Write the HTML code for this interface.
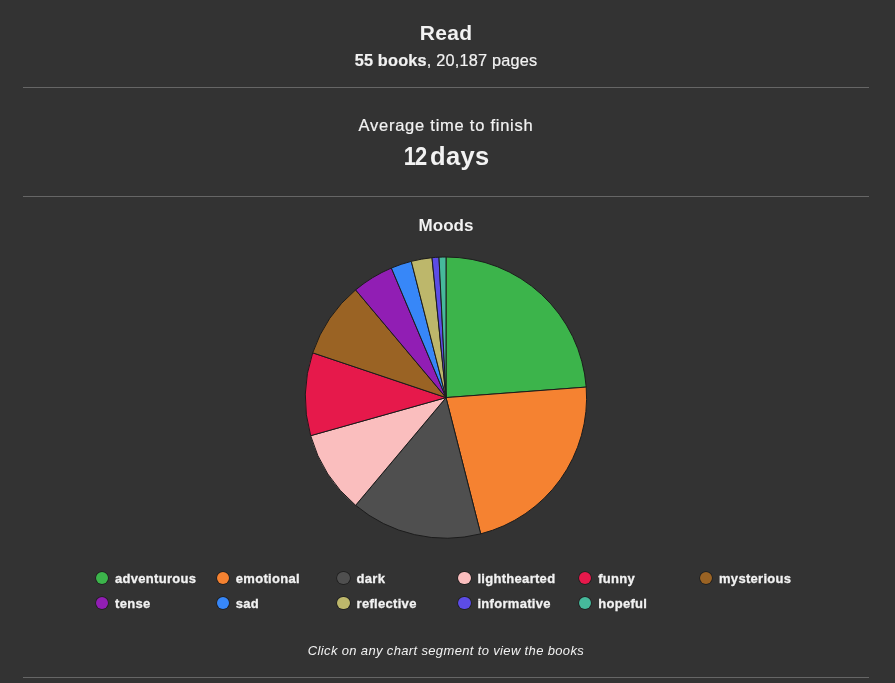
<!DOCTYPE html>
<html><head><meta charset="utf-8">
<style>
html,body{margin:0;padding:0;}
body{width:895px;height:683px;background:#333333;overflow:hidden;position:relative;font-family:"Liberation Sans",Arial,sans-serif;color:#f2f2f2;}
.t{position:absolute;white-space:nowrap;left:0;width:892px;text-align:center;line-height:1;}
.hr{position:absolute;left:23px;width:846px;height:1px;background:#666666;}
#read{top:22.3px;font-size:21px;font-weight:bold;letter-spacing:0.3px;}
#sub{-webkit-text-stroke:0.2px #f2f2f2;top:51.8px;font-size:16.3px;letter-spacing:0.2px;}
#avg{-webkit-text-stroke:0.2px #f2f2f2;top:117.2px;font-size:16.5px;letter-spacing:0.75px;}
#days{left:-1.5px;top:143.5px;font-size:25.5px;font-weight:bold;letter-spacing:0px;}
#moods{top:217.3px;font-size:17px;font-weight:bold;letter-spacing:0px;}
#cap{top:644px;font-size:13px;font-style:italic;letter-spacing:0.35px;}
.lg{position:absolute;-webkit-text-stroke:0.3px #f2f2f2;font-size:13px;font-weight:bold;line-height:1;white-space:nowrap;letter-spacing:0.3px;}
.dot{position:absolute;box-shadow:0 0 0 0.7px #1c1c1c;width:12.5px;height:12.5px;border-radius:50%;}
svg{position:absolute;left:0;top:0;}
</style></head><body>
<div class="t" id="read">Read</div>
<div class="t" id="sub"><b>55 books</b>, 20,187 pages</div>
<div class="hr" style="top:87px"></div>
<div class="t" id="avg">Average time to finish</div>
<div class="t" id="days"><span style="display:inline-block;transform:scaleX(0.86);transform-origin:100% 50%;letter-spacing:-1px">12</span> <span style="margin-left:-3px;letter-spacing:0.3px">days</span></div>
<div class="hr" style="top:196px"></div>
<div class="t" id="moods">Moods</div>
<svg width="895" height="683" viewBox="0 0 895 683"><g stroke="#1c1c1c" stroke-width="1" stroke-linejoin="round">
<path d="M446 397.6L446.00 257.00A140.6 140.6 0 0 1 586.21 387.09Z" fill="#3cb44b"/>
<path d="M446 397.6L586.21 387.09A140.6 140.6 0 0 1 480.69 533.85Z" fill="#f58231"/>
<path d="M446 397.6L480.69 533.85A140.6 140.6 0 0 1 355.62 505.31Z" fill="#4f4f4f"/>
<path d="M446 397.6L355.62 505.31A140.6 140.6 0 0 1 310.66 435.68Z" fill="#fabebe"/>
<path d="M446 397.6L310.66 435.68A140.6 140.6 0 0 1 312.72 352.82Z" fill="#e6194b"/>
<path d="M446 397.6L312.72 352.82A140.6 140.6 0 0 1 355.62 289.89Z" fill="#9a6324"/>
<path d="M446 397.6L355.62 289.89A140.6 140.6 0 0 1 391.39 268.04Z" fill="#911eb4"/>
<path d="M446 397.6L391.39 268.04A140.6 140.6 0 0 1 411.31 261.35Z" fill="#3787f8"/>
<path d="M446 397.6L411.31 261.35A140.6 140.6 0 0 1 432.00 257.70Z" fill="#bdb76b"/>
<path d="M446 397.6L432.00 257.70A140.6 140.6 0 0 1 438.99 257.17Z" fill="#5c4ce6"/>
<path d="M446 397.6L438.99 257.17A140.6 140.6 0 0 1 446.00 257.00Z" fill="#46b99b"/>
</g></svg>
<div class="dot" style="left:95.75px;top:571.75px;background:#3cb44b"></div><div class="lg" style="left:115.00px;top:572.20px">adventurous</div>
<div class="dot" style="left:216.55px;top:571.75px;background:#f58231"></div><div class="lg" style="left:235.80px;top:572.20px">emotional</div>
<div class="dot" style="left:337.35px;top:571.75px;background:#4f4f4f"></div><div class="lg" style="left:356.60px;top:572.20px">dark</div>
<div class="dot" style="left:458.15px;top:571.75px;background:#fabebe"></div><div class="lg" style="left:477.40px;top:572.20px">lighthearted</div>
<div class="dot" style="left:578.95px;top:571.75px;background:#e6194b"></div><div class="lg" style="left:598.20px;top:572.20px">funny</div>
<div class="dot" style="left:699.75px;top:571.75px;background:#9a6324"></div><div class="lg" style="left:719.00px;top:572.20px">mysterious</div>
<div class="dot" style="left:95.75px;top:596.75px;background:#911eb4"></div><div class="lg" style="left:115.00px;top:597.20px">tense</div>
<div class="dot" style="left:216.55px;top:596.75px;background:#3787f8"></div><div class="lg" style="left:235.80px;top:597.20px">sad</div>
<div class="dot" style="left:337.35px;top:596.75px;background:#bdb76b"></div><div class="lg" style="left:356.60px;top:597.20px">reflective</div>
<div class="dot" style="left:458.15px;top:596.75px;background:#5c4ce6"></div><div class="lg" style="left:477.40px;top:597.20px">informative</div>
<div class="dot" style="left:578.95px;top:596.75px;background:#46b99b"></div><div class="lg" style="left:598.20px;top:597.20px">hopeful</div>
<div class="t" id="cap">Click on any chart segment to view the books</div>
<div class="hr" style="top:677px"></div>
</body></html>
